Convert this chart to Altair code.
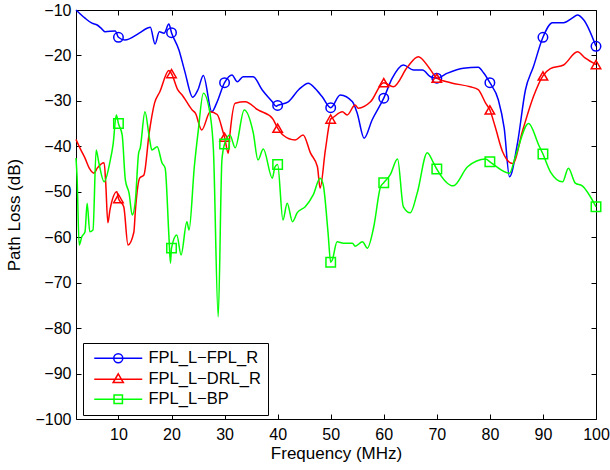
import altair as alt
import pandas as pd

series_names = ["FPL_L−FPL_R", "FPL_L−DRL_R", "FPL_L−BP"]
series_colors = ["#0000ff", "#ff0000", "#00ff00"]
marker_shapes = ["circle", "triangle-up", "square"]
legend_symbols = [
    "M-4,0L4,0M0.75,0A0.75,0.75,0,1,1,-0.75,0A0.75,0.75,0,1,1,0.75,0",
    "M-4,0L4,0M0,-0.9L0.85,0.55L-0.85,0.55Z",
    "M-4,0L4,0M-0.7,-0.7L0.7,-0.7L0.7,0.7L-0.7,0.7Z",
]

x_ticks = [10, 20, 30, 40, 50, 60, 70, 80, 90, 100]
y_ticks = [-100, -90, -80, -70, -60, -50, -40, -30, -20, -10]

blue_freq = [2, 3.7, 5, 6, 6.9, 7.5, 9.4, 10, 11.2, 13.9, 15.4, 16, 16.9, 17.7, 18.6, 19.5, 20, 21.4, 22.5, 24,
             25, 26, 27.6, 28.5, 30, 31.4, 32.4, 33.5, 35.4, 37.1, 39, 39.7, 40, 42, 44, 45.8, 47, 48.4, 50, 51.8,
             54.1, 55, 56.3, 57.8, 60, 61.6, 63.7, 65.6, 67.3, 68.8, 70, 72, 75, 77.8, 78.8, 80, 81.6, 82.7, 83.7,
             85.2, 86.7, 88.2, 90, 91.8, 93.9, 95.5, 96.5, 97.7, 100]
blue_loss = [-10, -11.8, -12.9, -13.3, -14.2, -14.8, -14.6, -16, -16.6, -15.1, -14, -13.8, -17.5, -14.8, -15.1, -13.1,
             -15, -18.8, -23.5, -29.2, -27.5, -24.4, -32.4, -30.5, -26, -24.3, -25.8, -24.7, -24.7, -27.6, -30.2,
             -31.2, -31, -30.2, -27.5, -26.1, -27.2, -29.1, -31.5, -28.7, -30.2, -32.7, -38.2, -34.2, -29.4, -25,
             -22.1, -23.2, -23.2, -24.7, -25, -23.9, -22.8, -22.6, -23.8, -26, -29.8, -36, -46.7, -39.3, -27.6,
             -22.5, -16, -12.8, -12.8, -11.8, -11.1, -12.2, -18]

red_freq = [2, 3, 3.7, 4.5, 5.4, 6, 7.3, 7.6, 8, 8.4, 9.7, 10, 11, 11.8, 12.9, 13.2, 14, 14.8, 15.8, 16.8,
            17.8, 19.5, 20, 21.2, 22, 23.9, 24.5, 25.7, 27.3, 28.6, 29.7, 30, 30.7, 31, 32, 33.9, 36.3, 39, 40, 41,
            43.3, 44.8, 46.2, 47.5, 48, 49, 50, 50.5, 52.2, 53.1, 54.6, 55.2, 57.5, 60, 61.8, 64.5, 66.5, 68.6, 70,
            72.6, 76.3, 77.8, 79.2, 80, 81, 82.4, 84.3, 86.2, 88.2, 90, 91.4, 93.9, 96.5, 98, 100]
red_loss = [-38.5, -41, -42.6, -44.8, -45.9, -44.8, -43.6, -48, -56.8, -54, -50, -51.5, -53.3, -61.7, -58.9, -54,
            -47, -46.3, -37, -30.5, -28, -23.3, -24, -27.6, -28.7, -32, -32.7, -36.4, -32.4, -33, -36.8, -38, -41.5,
            -37.5, -30.5, -30.2, -32, -33.8, -36, -37.5, -38.6, -37.5, -41.5, -44.5, -49.2, -40.8, -34, -33.6,
            -32.4, -33.1, -30.9, -31.6, -30.2, -26, -26.9, -22.5, -20.3, -22.8, -25, -26, -26.9, -27.5, -30.5, -32,
            -35.7, -41.2, -43.8, -36.4, -29.1, -24.5, -22.9, -22.1, -19.2, -20.6, -22]

green_freq = [2, 2.2, 2.6, 3.1, 3.7, 4.1, 4.6, 5.2, 5.8, 6.3, 7.3, 8.4, 9.0, 9.6, 10, 10.7, 11.3, 12, 12.6, 13.2,
              13.8, 14.1, 15, 15.8, 16.3, 17.3, 18.2, 18.8, 19.5, 19.8, 20, 21, 21.8, 22.9, 23.3, 24.3, 25, 26,
              27.3, 27.9, 28.8, 29.5, 30, 31, 32, 33.7, 35.4, 36.3, 37.3, 39, 39.5, 40, 41, 41.8, 42.8, 43.7, 45.2,
              46.7, 48, 48.6, 49.5, 50, 50.3, 51.2, 52.4, 54.1, 54.6, 56, 56.9, 58.1, 59.4, 60, 61.2, 62.6, 63.7,
              65, 66.3, 68.2, 69.4, 70, 73.1, 75.8, 79.2, 80, 83.7, 84.8, 87.3, 89.2, 90, 91.4, 93.7, 94.8, 96.1,
              97.4, 100]
green_loss = [-42.6, -46.7, -61.7, -59.9, -58.8, -52.5, -58.8, -58.4, -40.8, -43.6, -47.8, -43.4, -39.5, -33.1,
              -35, -37.5, -47.4, -50.3, -55.1, -51.8, -41.5, -40.4, -32.4, -37.9, -40.8, -40.1, -43.6, -44.8, -59.5,
              -65.7, -62.4, -59.5, -63.9, -56.6, -58.4, -44.5, -37, -28.3, -33.1, -40.8, -77.5, -43, -39.5, -37.5,
              -40.3, -32, -37, -43, -40.6, -47, -44.5, -44, -56.2, -52.5, -56.6, -54.6, -53.3, -50.7, -47, -48.5,
              -59, -65.5, -65, -61, -61.3, -61.3, -62, -61, -62.4, -57.8, -48.9, -48, -46.3, -42.8, -53.3, -54.6,
              -50.3, -41.4, -43.7, -45, -48.7, -44.5, -42.8, -43.4, -45.9, -42.3, -35, -39.7, -41.7, -45.6, -47.8,
              -44.8, -48.1, -48.7, -53.3]

frames = []
for name, fr, lo in zip(series_names, [blue_freq, red_freq, green_freq], [blue_loss, red_loss, green_loss]):
    frames.append(pd.DataFrame({"freq": fr, "loss": lo, "series": name}))
df = pd.concat(frames, ignore_index=True)

FONT = "Liberation Sans"
xscale = alt.Scale(domain=[2, 100], nice=False, zero=False)
yscale = alt.Scale(domain=[-100, -10], nice=False, zero=False)

axis_common = dict(domain=False, grid=False, tickSize=5, offset=-5, tickColor="black", tickWidth=1,
                   labelFont=FONT, labelFontSize=16, labelColor="black",
                   titleFont=FONT, titleFontSize=17, titleColor="black", titleFontWeight="normal")

x_axis = alt.Axis(values=x_ticks, orient="bottom", title="Frequency (MHz)", labelPadding=7, titlePadding=3,
                  labelFlush=False, **axis_common)
y_axis = alt.Axis(values=y_ticks, orient="left", title="Path Loss (dB)", labelPadding=5, titlePadding=11,
                  labelFlush=False, **axis_common)
x_axis_top = alt.Axis(values=x_ticks, orient="top", labels=False, title=None, domain=False, grid=False,
                      tickSize=5, offset=-5, tickColor="black")
y_axis_right = alt.Axis(values=y_ticks, orient="right", labels=False, title=None, domain=False, grid=False,
                        tickSize=5, offset=-5, tickColor="black")

base = alt.Chart(df)
layers = []

# main axes carrier
layers.append(
    base.transform_filter("false").mark_point(opacity=0).encode(
        x=alt.X("freq:Q", scale=xscale, axis=x_axis),
        y=alt.Y("loss:Q", scale=yscale, axis=y_axis),
    )
)
# top / right inward ticks
layers.append(
    base.transform_filter("false").mark_point(opacity=0).encode(
        x=alt.X("freq:Q", scale=xscale, axis=x_axis_top),
        y=alt.Y("loss:Q", scale=yscale, axis=y_axis_right),
    )
)

for name, col, shp in zip(series_names, series_colors, marker_shapes):
    sub = base.transform_filter(alt.datum.series == name)
    layers.append(
        sub.mark_line(interpolate="monotone", strokeWidth=1.5, color=col).encode(
            x=alt.X("freq:Q", scale=xscale, axis=None),
            y=alt.Y("loss:Q", scale=yscale, axis=None),
        )
    )
    layers.append(
        sub.transform_filter("datum.freq % 10 == 0").mark_point(
            shape=shp, filled=False, size=90, strokeWidth=1.5, color=col, opacity=1
        ).encode(
            x=alt.X("freq:Q", scale=xscale, axis=None),
            y=alt.Y("loss:Q", scale=yscale, axis=None),
        )
    )

leg = alt.Legend(
    title=None, orient="none", legendX=7, legendY=333, direction="vertical",
    strokeColor="black", fillColor="white", padding=7, cornerRadius=0,
    symbolSize=144, symbolStrokeWidth=1.5, symbolOffset=20, labelOffset=22,
    labelFont=FONT, labelFontSize=16.5, labelColor="black", labelLimit=300, rowPadding=3,
)
layers.append(
    base.transform_filter("false").mark_point(filled=False, strokeWidth=1.5, opacity=1).encode(
        x=alt.X("freq:Q", scale=xscale, axis=None),
        y=alt.Y("loss:Q", scale=yscale, axis=None),
        color=alt.Color("series:N", scale=alt.Scale(domain=series_names, range=series_colors), legend=leg),
        shape=alt.Shape("series:N", scale=alt.Scale(domain=series_names, range=legend_symbols), legend=leg),
    )
)

chart = alt.layer(*layers).resolve_axis(x="independent", y="independent").properties(
    width=520, height=409,
    autosize=alt.AutoSizeParams(type="none"),
    padding={"left": 76, "top": 10, "right": 14, "bottom": 51},
    background="white",
).configure_view(stroke="black", strokeWidth=1)

chart.save("out.html", embed_options={"renderer": "svg", "actions": False})
